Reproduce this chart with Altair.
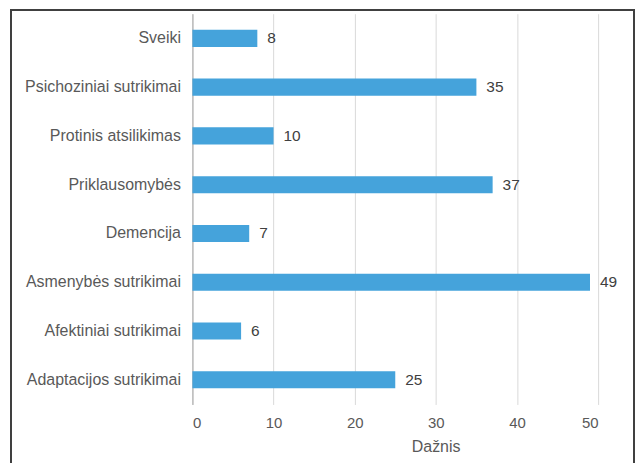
import altair as alt
import pandas as pd

categories = [
    "Sveiki",
    "Psichoziniai sutrikimai",
    "Protinis atsilikimas",
    "Priklausomybės",
    "Demencija",
    "Asmenybės sutrikimai",
    "Afektiniai sutrikimai",
    "Adaptacijos sutrikimai",
]
values = [8, 35, 10, 37, 7, 49, 6, 25]
x_ticks = [0, 10, 20, 30, 40, 50]

df = pd.DataFrame({"kategorija": categories, "daznis": values})

FONT = "Liberation Sans"

base = alt.Chart(df).encode(
    y=alt.Y(
        "kategorija:N",
        sort=categories,
        title=None,
        scale=alt.Scale(paddingInner=0.65, paddingOuter=0.33),
        axis=alt.Axis(
            labelFont=FONT,
            labelFontSize=16,
            labelColor="#595959",
            labelPadding=12,
            labelLimit=300,
            ticks=False,
            domain=True,
            domainColor="#a6a6a6",
            grid=False,
        ),
    ),
    x=alt.X(
        "daznis:Q",
        title="Dažnis",
        scale=alt.Scale(domain=[0, 50], nice=False),
        axis=alt.Axis(
            values=x_ticks,
            labelFont=FONT,
            labelFontSize=15,
            labelColor="#595959",
            labelPadding=11,
            titleFont=FONT,
            titleFontSize=16,
            titleFontWeight="normal",
            titleColor="#595959",
            titlePadding=8,
            titleX=244,
            titleAlign="center",
            ticks=False,
            domain=False,
            grid=True,
            gridColor="#d9d9d9",
        ),
    ),
)

bars = base.mark_bar(color="#45a3db")
labels = base.mark_text(
    align="left", baseline="middle", dx=10, font=FONT, fontSize=15.5, color="#404040"
).encode(text="daznis:Q")

frame = alt.Chart(df).mark_rect(
    fill=None, stroke="#404040", strokeWidth=1.5, clip=False
).encode(
    x=alt.value(-182), x2=alt.value(443), y=alt.value(-4), y2=alt.value(480)
)

chart = (
    alt.layer(frame, bars, labels)
    .properties(
        width=407,
        height=392,
        autosize=alt.AutoSizeParams(type="none"),
        padding={"left": 185, "top": 5, "right": 37, "bottom": 58},
    )
    .configure_view(stroke=None)
)

chart.save("out.html", embed_options={"renderer": "svg", "actions": False})
